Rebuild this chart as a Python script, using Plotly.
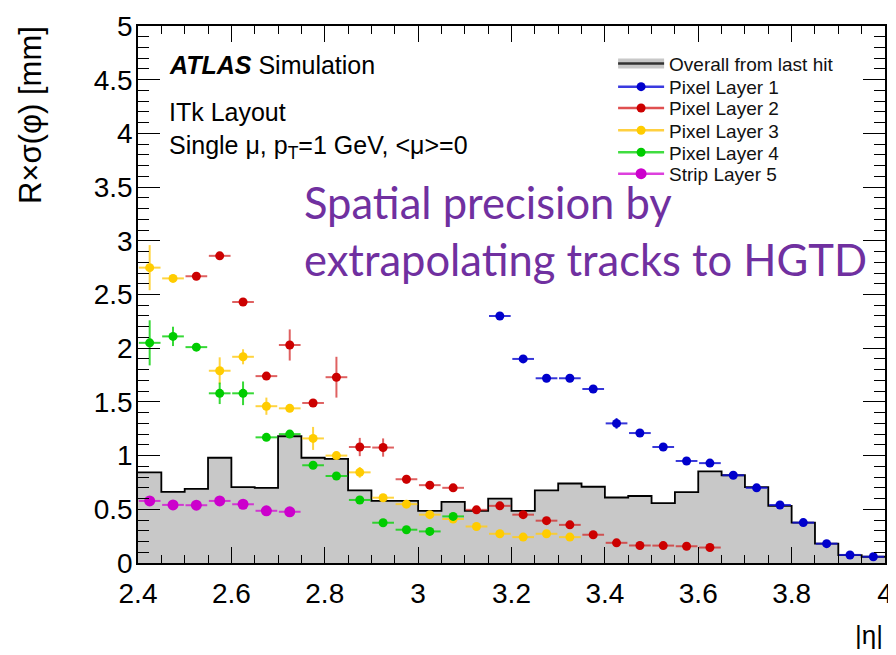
import plotly.graph_objects as go

FONT = "Liberation Sans, Arial, Helvetica, sans-serif"

# ---------------- data ----------------
BIN_W = 0.05
# Overall from last hit: histogram, bin low edges and contents
hist_lo = [2.40, 2.45, 2.50, 2.55, 2.60, 2.65, 2.70, 2.75, 2.80, 2.85, 2.90, 2.95,
           3.00, 3.05, 3.10, 3.15, 3.20, 3.25, 3.30, 3.35, 3.40, 3.45, 3.50, 3.55,
           3.60, 3.65, 3.70, 3.75, 3.80, 3.85, 3.90, 3.95]
hist_val = [0.844, 0.663, 0.69, 0.98, 0.706, 0.70, 1.18, 0.98, 0.97, 0.676, 0.578, 0.578,
            0.486, 0.569, 0.486, 0.60, 0.486, 0.676, 0.74, 0.71, 0.61, 0.624, 0.557, 0.66,
            0.853, 0.817, 0.706, 0.532, 0.376, 0.18, 0.073, 0.058]

# Pixel Layer 1
p1_eta = [3.175, 3.225, 3.275, 3.325, 3.375, 3.425, 3.475, 3.525, 3.575, 3.625,
          3.675, 3.725, 3.775, 3.825, 3.875, 3.925, 3.975]
p1_val = [2.30, 1.90, 1.72, 1.72, 1.62, 1.30, 1.21, 1.08, 0.95, 0.93,
          0.817, 0.70, 0.54, 0.376, 0.18, 0.075, 0.058]
p1_err = [0.02, 0.03, 0.01, 0.01, 0.02, 0.05, 0.02, 0.01, 0.01, 0.01,
          0.01, 0.01, 0.01, 0.01, 0.01, 0.01, 0.01]

# Pixel Layer 2
p2_eta = [2.525, 2.575, 2.625, 2.675, 2.725, 2.775, 2.825, 2.875, 2.925, 2.975,
          3.025, 3.075, 3.125, 3.175, 3.225, 3.275, 3.325, 3.375, 3.425, 3.475,
          3.525, 3.575, 3.625]
p2_val = [2.67, 2.86, 2.43, 1.74, 2.03, 1.49, 1.73, 1.08, 1.075, 0.78,
          0.725, 0.70, 0.495, 0.532, 0.45, 0.394, 0.355, 0.263, 0.188, 0.163,
          0.162, 0.156, 0.144]
p2_err = [0.02, 0.02, 0.02, 0.02, 0.145, 0.02, 0.19, 0.085, 0.085, 0.04,
          0.02, 0.02, 0.02, 0.02, 0.02, 0.02, 0.02, 0.01, 0.01, 0.01,
          0.01, 0.01, 0.01]

# Pixel Layer 3
p3_eta = [2.425, 2.475, 2.575, 2.625, 2.675, 2.725, 2.775, 2.825, 2.875, 2.925,
          2.975, 3.025, 3.075, 3.125, 3.175, 3.225, 3.275, 3.325]
p3_val = [2.75, 2.65, 1.79, 1.92, 1.46, 1.44, 1.16, 1.00, 0.844, 0.608,
          0.548, 0.45, 0.41, 0.34, 0.272, 0.241, 0.272, 0.241]
p3_err = [0.21, 0.02, 0.125, 0.07, 0.08, 0.02, 0.107, 0.03, 0.05, 0.03,
          0.02, 0.02, 0.02, 0.02, 0.02, 0.02, 0.02, 0.02]

# Pixel Layer 4
p4_eta = [2.425, 2.475, 2.525, 2.575, 2.625, 2.675, 2.725, 2.775, 2.825, 2.875,
          2.925, 2.975, 3.025, 3.075]
p4_val = [2.05, 2.11, 2.01, 1.58, 1.58, 1.17, 1.20, 0.91, 0.81, 0.587,
          0.375, 0.31, 0.294, 0.434]
p4_err = [0.21, 0.09, 0.03, 0.10, 0.11, 0.02, 0.02, 0.02, 0.02, 0.02,
          0.02, 0.02, 0.02, 0.02]

# Strip Layer 5
s5_eta = [2.425, 2.475, 2.525, 2.575, 2.625, 2.675, 2.725]
s5_val = [0.578, 0.541, 0.538, 0.578, 0.547, 0.486, 0.477]
s5_err = [0.01, 0.01, 0.01, 0.01, 0.01, 0.01, 0.01]

series = [
    ("Pixel Layer 1", p1_eta, p1_val, p1_err, "#0000CC", "rgba(20,20,210,0.85)", "#3a3ae0", 9),
    ("Pixel Layer 2", p2_eta, p2_val, p2_err, "#CC0000", "rgba(210,30,30,0.7)", "#e05050", 9),
    ("Pixel Layer 3", p3_eta, p3_val, p3_err, "#FFCC00", "rgba(255,205,30,0.85)", "#ffd040", 9),
    ("Pixel Layer 4", p4_eta, p4_val, p4_err, "#00CC00", "rgba(20,210,20,0.85)", "#40dd40", 9),
    ("Strip Layer 5", s5_eta, s5_val, s5_err, "#CC00CC", "rgba(210,30,210,0.85)", "#dd40dd", 11),
]

legend_rows = [0.9297, 0.8868, 0.8471, 0.8055, 0.7646, 0.7248]

# ---------------- figure ----------------
fig = go.Figure()

step_x = hist_lo + [hist_lo[-1] + BIN_W]
step_y = hist_val + [hist_val[-1]]
fig.add_trace(go.Scatter(
    x=step_x, y=step_y, mode="lines", line=dict(shape="hv", color="black", width=1.8),
    fill="tozeroy", fillcolor="#c8c8c8", showlegend=False, hoverinfo="skip"))

for name, ex, ey, err, mcol, ecol, lcol, ms in series:
    fig.add_trace(go.Scatter(
        x=ex, y=ey, mode="markers",
        marker=dict(color=mcol, size=ms),
        error_x=dict(type="data", array=[BIN_W / 2 * 0.93] * len(ex), width=0,
                     thickness=2, color=ecol),
        error_y=dict(type="data", array=err, width=0, thickness=2, color=ecol),
        showlegend=False))

# legend entries (one legend per row to control row spacing)
def legend_box(yc):
    return dict(x=0.636, y=yc, xanchor="left", yanchor="middle",
                bgcolor="rgba(0,0,0,0)", borderwidth=0, itemwidth=46,
                font=dict(family=FONT, size=19, color="#111"))

fig.add_trace(go.Scatter(x=[None], y=[None], mode="lines", name="Overall from last hit",
                         line=dict(color="#c8c8c8", width=10), legend="legend"))
fig.add_trace(go.Scatter(x=[None], y=[None], mode="lines", name=" ",
                         line=dict(color="#333333", width=2.5), legend="legend7"))
for i, (name, ex, ey, err, mcol, ecol, lcol, ms) in enumerate(series):
    fig.add_trace(go.Scatter(x=[None], y=[None], mode="lines+markers", name=name,
                             line=dict(color=lcol, width=2.5),
                             marker=dict(color=mcol, size=ms),
                             legend="legend%d" % (i + 2)))

layout_legends = {"legend": legend_box(legend_rows[0]), "legend7": legend_box(legend_rows[0])}
for i in range(5):
    layout_legends["legend%d" % (i + 2)] = legend_box(legend_rows[i + 1])

axis_common = dict(showgrid=False, zeroline=False, showline=True, linecolor="black",
                   linewidth=1.5, mirror="allticks", ticks="inside", tickcolor="black",
                   tickwidth=1.3, ticklabeloverflow="allow",
                   tickfont=dict(family=FONT, size=28, color="black"))

# the page body has an 8px margin, so the figure is shifted by 8px
fig.update_layout(
    width=888, height=647,
    margin=dict(l=130, r=3, t=10, b=92),
    paper_bgcolor="white", plot_bgcolor="white",
    xaxis=dict(range=[2.4, 4.0], tick0=2.4, dtick=0.2, ticklen=16, ticklabelstandoff=5,
               minor=dict(dtick=0.05, ticklen=8, ticks="inside", tickcolor="black", tickwidth=1.2),
               **axis_common),
    yaxis=dict(range=[0, 5], tick0=0, dtick=0.5, ticklen=22, ticklabelstandoff=-2,
               minor=dict(dtick=0.1, ticklen=11, ticks="inside", tickcolor="black", tickwidth=1.2),
               **axis_common),
    **layout_legends,
)

ann = [
    dict(text="<b><i>ATLAS</i></b> Simulation", x=0.0384, y=0.928, size=25, family=FONT, color="black"),
    dict(text="ITk Layout", x=0.0384, y=0.840, size=25, family=FONT, color="black"),
    dict(text="Single μ, p<sub>T</sub>=1 GeV, <μ>=0", x=0.0384, y=0.775, size=25, family=FONT, color="black"),
    dict(text="Spatial precision by", x=0.2195, y=0.672, size=43.5, family="Lato", color="#7030A0"),
    dict(text="extrapolating tracks to HGTD", x=0.2195, y=0.567, size=43.5, family="Lato", color="#7030A0"),
]
for a in ann:
    fig.add_annotation(text=a["text"], x=a["x"], y=a["y"], xref="paper", yref="paper",
                       xanchor="left", yanchor="middle", showarrow=False,
                       font=dict(family=a["family"], size=a["size"], color=a["color"]))

fig.add_annotation(text="R×σ(φ) [mm]", x=-0.143, y=1.004, xref="paper", yref="paper",
                   xanchor="center", yanchor="top", textangle=-90, showarrow=False,
                   font=dict(family=FONT, size=31, color="black"))
fig.add_annotation(text="|η|", x=1.0, y=-0.135, xref="paper", yref="paper",
                   xanchor="right", yanchor="middle", showarrow=False,
                   font=dict(family=FONT, size=26, color="black"))

fig.write_html("out.html")
